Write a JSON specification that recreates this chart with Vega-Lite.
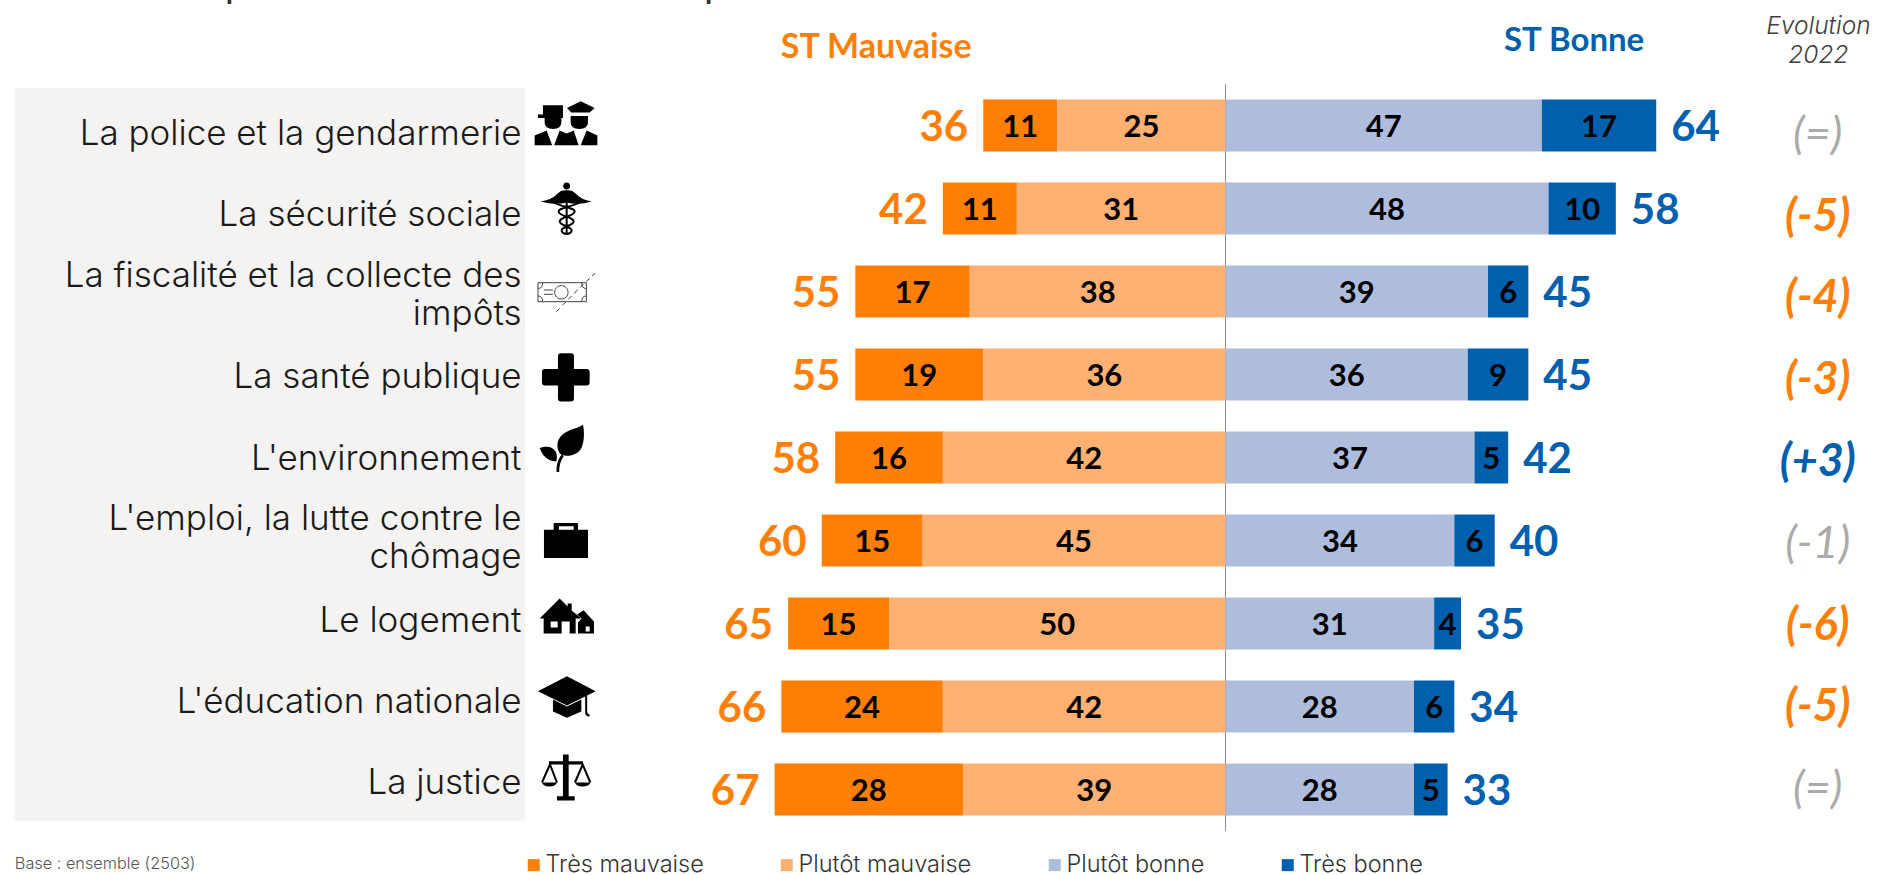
{"$schema":"https://vega.github.io/schema/vega-lite/v6.json","width":1881,"height":875,"padding":0,"autosize":{"type":"none"},"background":"white","config":{"view":{"stroke":null},"text":{"font":"Lato"}},
"data":{"values":[{"annotation":1}]},
"datasets":{
"barres":[
{"item":"La police et la gendarmerie","cat":"Très mauvaise","rang":2,"v":-11,"n":11},{"item":"La police et la gendarmerie","cat":"Plutôt mauvaise","rang":1,"v":-25,"n":25},{"item":"La police et la gendarmerie","cat":"Plutôt bonne","rang":1,"v":47,"n":47},{"item":"La police et la gendarmerie","cat":"Très bonne","rang":2,"v":17,"n":17},
{"item":"La sécurité sociale","cat":"Très mauvaise","rang":2,"v":-11,"n":11},{"item":"La sécurité sociale","cat":"Plutôt mauvaise","rang":1,"v":-31,"n":31},{"item":"La sécurité sociale","cat":"Plutôt bonne","rang":1,"v":48,"n":48},{"item":"La sécurité sociale","cat":"Très bonne","rang":2,"v":10,"n":10},
{"item":"La fiscalité et la collecte des impôts","cat":"Très mauvaise","rang":2,"v":-17,"n":17},{"item":"La fiscalité et la collecte des impôts","cat":"Plutôt mauvaise","rang":1,"v":-38,"n":38},{"item":"La fiscalité et la collecte des impôts","cat":"Plutôt bonne","rang":1,"v":39,"n":39},{"item":"La fiscalité et la collecte des impôts","cat":"Très bonne","rang":2,"v":6,"n":6},
{"item":"La santé publique","cat":"Très mauvaise","rang":2,"v":-19,"n":19},{"item":"La santé publique","cat":"Plutôt mauvaise","rang":1,"v":-36,"n":36},{"item":"La santé publique","cat":"Plutôt bonne","rang":1,"v":36,"n":36},{"item":"La santé publique","cat":"Très bonne","rang":2,"v":9,"n":9},
{"item":"L'environnement","cat":"Très mauvaise","rang":2,"v":-16,"n":16},{"item":"L'environnement","cat":"Plutôt mauvaise","rang":1,"v":-42,"n":42},{"item":"L'environnement","cat":"Plutôt bonne","rang":1,"v":37,"n":37},{"item":"L'environnement","cat":"Très bonne","rang":2,"v":5,"n":5},
{"item":"L'emploi, la lutte contre le chômage","cat":"Très mauvaise","rang":2,"v":-15,"n":15},{"item":"L'emploi, la lutte contre le chômage","cat":"Plutôt mauvaise","rang":1,"v":-45,"n":45},{"item":"L'emploi, la lutte contre le chômage","cat":"Plutôt bonne","rang":1,"v":34,"n":34},{"item":"L'emploi, la lutte contre le chômage","cat":"Très bonne","rang":2,"v":6,"n":6},
{"item":"Le logement","cat":"Très mauvaise","rang":2,"v":-15,"n":15},{"item":"Le logement","cat":"Plutôt mauvaise","rang":1,"v":-50,"n":50},{"item":"Le logement","cat":"Plutôt bonne","rang":1,"v":31,"n":31},{"item":"Le logement","cat":"Très bonne","rang":2,"v":4,"n":4},
{"item":"L'éducation nationale","cat":"Très mauvaise","rang":2,"v":-24,"n":24},{"item":"L'éducation nationale","cat":"Plutôt mauvaise","rang":1,"v":-42,"n":42},{"item":"L'éducation nationale","cat":"Plutôt bonne","rang":1,"v":28,"n":28},{"item":"L'éducation nationale","cat":"Très bonne","rang":2,"v":6,"n":6},
{"item":"La justice","cat":"Très mauvaise","rang":2,"v":-28,"n":28},{"item":"La justice","cat":"Plutôt mauvaise","rang":1,"v":-39,"n":39},{"item":"La justice","cat":"Plutôt bonne","rang":1,"v":28,"n":28},{"item":"La justice","cat":"Très bonne","rang":2,"v":5,"n":5}
],
"lignes":[
{"item":"La police et la gendarmerie","libelle":"La police et la gendarmerie","nb":1,"stm":36,"stm_x":-36,"stb":64,"evol":"(=)","sens":"neutre"},
{"item":"La sécurité sociale","libelle":"La sécurité sociale","nb":1,"stm":42,"stm_x":-42,"stb":58,"evol":"(-5)","sens":"baisse"},
{"item":"La fiscalité et la collecte des impôts","libelle":"La fiscalité et la collecte des|impôts","nb":2,"stm":55,"stm_x":-55,"stb":45,"evol":"(-4)","sens":"baisse"},
{"item":"La santé publique","libelle":"La santé publique","nb":1,"stm":55,"stm_x":-55,"stb":45,"evol":"(-3)","sens":"baisse"},
{"item":"L'environnement","libelle":"L'environnement","nb":1,"stm":58,"stm_x":-58,"stb":42,"evol":"(+3)","sens":"hausse"},
{"item":"L'emploi, la lutte contre le chômage","libelle":"L'emploi, la lutte contre le|chômage","nb":2,"stm":60,"stm_x":-60,"stb":40,"evol":"(-1)","sens":"neutre"},
{"item":"Le logement","libelle":"Le logement","nb":1,"stm":65,"stm_x":-65,"stb":35,"evol":"(-6)","sens":"baisse"},
{"item":"L'éducation nationale","libelle":"L'éducation nationale","nb":1,"stm":66,"stm_x":-66,"stb":34,"evol":"(-5)","sens":"baisse"},
{"item":"La justice","libelle":"La justice","nb":1,"stm":67,"stm_x":-67,"stb":33,"evol":"(=)","sens":"neutre"}
]},
"layer":[
{"mark":{"type":"rect","color":"#F4F3F1"},"encoding":{"x":{"datum":-179.9,"type":"quantitative","axis":null,"scale":{"domain":[-182.1,97.4],"nice":false,"zero":false}},"x2":{"datum":-104.1},"y":{"datum":88,"type":"quantitative","axis":null,"scale":{"domain":[0,875],"reverse":true,"nice":false}},"y2":{"datum":820.7}}},
{"mark":{"type":"rule","color":"#8C8C8C","strokeWidth":1},"encoding":{"x":{"datum":0,"type":"quantitative","axis":null},"y":{"datum":84,"type":"quantitative","axis":null,"scale":{"domain":[0,875],"reverse":true,"nice":false}},"y2":{"datum":831}}},
{"data":{"name":"lignes"},"transform":[{"filter":"datum.nb==1"}],"mark":{"type":"text","font":"Inter","fontSize":35,"fontWeight":300,"color":"#1a1a1a","align":"right","baseline":"middle"},"encoding":{"x":{"datum":-104.6,"type":"quantitative","axis":null},"y":{"field":"item","type":"nominal","sort":null,"axis":null,"scale":{"domain":["La police et la gendarmerie","La sécurité sociale","La fiscalité et la collecte des impôts","La santé publique","L'environnement","L'emploi, la lutte contre le chômage","Le logement","L'éducation nationale","La justice"],"range":[93.5,823.5]}},"text":{"field":"libelle"}}},
{"data":{"name":"lignes"},"transform":[{"filter":"datum.nb==2"}],"mark":{"type":"text","font":"Inter","fontSize":35,"fontWeight":300,"color":"#1a1a1a","align":"right","baseline":"middle","lineBreak":"|","lineHeight":38,"dy":-20.5},"encoding":{"x":{"datum":-104.6,"type":"quantitative","axis":null},"y":{"field":"item","type":"nominal","sort":null,"axis":null,"scale":{"domain":["La police et la gendarmerie","La sécurité sociale","La fiscalité et la collecte des impôts","La santé publique","L'environnement","L'emploi, la lutte contre le chômage","Le logement","L'éducation nationale","La justice"],"range":[93.5,823.5]}},"text":{"field":"libelle"}}},
{"data":{"name":"barres"},"mark":{"type":"bar","height":52},"encoding":{
"x":{"field":"v","type":"quantitative","stack":"zero","axis":null},
"y":{"field":"item","type":"nominal","sort":null,"axis":null,"scale":{"domain":["La police et la gendarmerie","La sécurité sociale","La fiscalité et la collecte des impôts","La santé publique","L'environnement","L'emploi, la lutte contre le chômage","Le logement","L'éducation nationale","La justice"],"range":[84,831]}},
"color":{"field":"cat","type":"nominal","scale":{"domain":["Très mauvaise","Plutôt mauvaise","Plutôt bonne","Très bonne"],"range":["#FF7F07","#FFB073","#AFBDDD","#0060AE"]},"legend":{"orient":"none","legendX":522,"legendY":853,"direction":"horizontal","columns":4,"title":null,"symbolType":"square","symbolSize":144,"symbolStrokeWidth":0,"labelFont":"Inter","labelFontSize":23.5,"labelFontWeight":300,"labelColor":"#333333","columnPadding":71,"labelOffset":0,"padding":0,"labelLimit":300}},
"order":{"field":"rang","type":"quantitative"}}},
{"data":{"name":"barres"},"mark":{"type":"text","fontSize":31,"fontWeight":"bold","color":"#000000","align":"center","baseline":"middle","dy":2},"encoding":{
"x":{"field":"v","type":"quantitative","stack":"zero","bandPosition":0.5,"axis":null},
"y":{"field":"item","type":"nominal","sort":null,"axis":null,"scale":{"domain":["La police et la gendarmerie","La sécurité sociale","La fiscalité et la collecte des impôts","La santé publique","L'environnement","L'emploi, la lutte contre le chômage","Le logement","L'éducation nationale","La justice"],"range":[84,831]}},
"detail":{"field":"cat"},"order":{"field":"rang","type":"quantitative"},"text":{"field":"n","type":"quantitative"}}},
{"data":{"name":"lignes"},"mark":{"type":"text","fontSize":42,"fontWeight":"bold","color":"#FF7F07","align":"right","baseline":"middle","dx":-15,"dy":2},"encoding":{"x":{"field":"stm_x","type":"quantitative","axis":null},"y":{"field":"item","type":"nominal","sort":null,"axis":null,"scale":{"domain":["La police et la gendarmerie","La sécurité sociale","La fiscalité et la collecte des impôts","La santé publique","L'environnement","L'emploi, la lutte contre le chômage","Le logement","L'éducation nationale","La justice"],"range":[84,831]}},"text":{"field":"stm","type":"quantitative"}}},
{"data":{"name":"lignes"},"mark":{"type":"text","fontSize":42,"fontWeight":"bold","color":"#0060AE","align":"left","baseline":"middle","dx":15,"dy":2},"encoding":{"x":{"field":"stb","type":"quantitative","axis":null},"y":{"field":"item","type":"nominal","sort":null,"axis":null,"scale":{"domain":["La police et la gendarmerie","La sécurité sociale","La fiscalité et la collecte des impôts","La santé publique","L'environnement","L'emploi, la lutte contre le chômage","Le logement","L'éducation nationale","La justice"],"range":[84,831]}},"text":{"field":"stb","type":"quantitative"}}},
{"data":{"name":"lignes"},"transform":[{"filter":"datum.sens!='neutre'"}],"mark":{"type":"text","fontSize":45,"fontWeight":"bold","fontStyle":"italic","align":"center","baseline":"middle","dy":3},"encoding":{"x":{"datum":88,"type":"quantitative","axis":null},"y":{"field":"item","type":"nominal","sort":null,"axis":null,"scale":{"domain":["La police et la gendarmerie","La sécurité sociale","La fiscalité et la collecte des impôts","La santé publique","L'environnement","L'emploi, la lutte contre le chômage","Le logement","L'éducation nationale","La justice"],"range":[91,827]}},"color":{"field":"sens","type":"nominal","legend":null,"scale":{"domain":["baisse","hausse"],"range":["#FF7F07","#0060AE"]}},"text":{"field":"evol"}}},
{"data":{"name":"lignes"},"transform":[{"filter":"datum.sens=='neutre'"}],"mark":{"type":"text","fontSize":45,"fontStyle":"italic","color":"#ABABAB","align":"center","baseline":"middle","dy":3},"encoding":{"x":{"datum":88,"type":"quantitative","axis":null},"y":{"field":"item","type":"nominal","sort":null,"axis":null,"scale":{"domain":["La police et la gendarmerie","La sécurité sociale","La fiscalité et la collecte des impôts","La santé publique","L'environnement","L'emploi, la lutte contre le chômage","Le logement","L'éducation nationale","La justice"],"range":[91,827]}},"text":{"field":"evol"}}},
{"data":{"name":"lignes"},"transform":[{"filter":"datum.item!='La fiscalité et la collecte des impôts'"}],"mark":{"type":"point","filled":true,"size":4,"color":"#000000","opacity":1,"strokeWidth":0},"encoding":{"x":{"datum":-97.9,"type":"quantitative","axis":null},"y":{"field":"item","type":"nominal","sort":null,"axis":null,"scale":{"domain":["La police et la gendarmerie","La sécurité sociale","La fiscalité et la collecte des impôts","La santé publique","L'environnement","L'emploi, la lutte contre le chômage","Le logement","L'éducation nationale","La justice"],"range":[84,831]}},
"shape":{"field":"item","type":"nominal","legend":null,"scale":{"domain":["La police et la gendarmerie","La sécurité sociale","La santé publique","L'environnement","L'emploi, la lutte contre le chômage","Le logement","L'éducation nationale","La justice"],"range":[
"M-23.7 -20.3H-3.7V-11H-23.7ZM-28.7 -11H-3.7V-7.6H-28.7ZM-22 -7.6H-5.3V-3Q-5.3 3 -13.5 3.5Q-22 3 -22 -3ZM0.3 -17.6L14 -24.3L28 -17.6L23 -13H4.7ZM4 -9.6H21.3V-3Q21.3 3 12.7 3.5Q4 3 4 -3ZM-32 19.7V10L-20 5L-14.5 19.7H-12.5L-7 5L0 8L7 5L12 19.7H14L20 5L30.7 10V19.7Z",
"M-26 -7Q-14 -9 -9 -15Q-5 -19 0 -18Q5 -19 9 -15Q14 -9 25 -7Q12 -3 0 -6Q-12 -3 -26 -7ZM-3.5 -22.5a3.5 3.5 0 1 0 7 0a3.5 3.5 0 1 0 -7 0Z",
"M-8.7 -18.3Q-8.7 -21.3 -5.7 -21.3H4.3Q7.3 -21.3 7.3 -18.3V-5.6H20Q23 -5.6 23 -2.6V8Q23 11 20 11H7.3V24Q7.3 27 4.3 27H-5.7Q-8.7 27 -8.7 24V11H-21.7Q-24.7 11 -24.7 8V-2.6Q-24.7 -5.6 -21.7 -5.6H-8.7Z",
"M16.3 -32.7C10 -28 -3 -28 -8 -18C-11 -11 -8 -5 -5.3 -2.7C2 0 12 -3 15 -10C17.5 -16 18 -25 16.3 -32.7ZM-27 -9.4C-20 -12 -14 -11 -11 -6C-9 -2 -10 2 -10.3 4C-15 4 -23 2 -27 -9.4ZM-10 14.5L-7.5 14.5C-7.5 8 -6 3 -3 -1L-5 -3C-9 2 -10.5 8 -10 14.5Z",
"M-22.7 -10.8H-13V-17.5H11.3V-10.8H21.3V17.5H-22.7ZM-7.7 -14.2V-10.8H7V-14.2Z",
"M-7 -25L1 -17V-20H5V-13L14.7 -5H9V10H3V-2H-5V10H-23V-5H-27ZM-16 -2V4H-9V-2ZM17 -13.3L27.3 -2V10H11.3V-1L15 -5L10.5 -9ZM19 3V8H23V3Z",
"M0.3 -30.3L29 -15.3L0.3 -1L-28.7 -15.3ZM-13.7 -7L0.3 0L14.7 -7V5L0.3 11.3L-13.7 5ZM18.5 -12H20.5V5Q21 8 23 8V10Q18 10 18.5 5Z",
"M-3.7 -35H2V-28.3H16.3V-25H2V6.7H8V11H-9.7V6.7H-3.7V-25H-17.7V-28.3H-3.7ZM-24.7 -7H-9.7Q-11 -3 -17.2 -3Q-23.5 -3 -24.7 -7ZM8.3 -7H23.7Q22.5 -3 16 -3Q9.5 -3 8.3 -7Z"]}}}},
{"data":{"name":"lignes"},"transform":[{"filter":"datum.item=='La sécurité sociale'||datum.item=='La justice'"}],"mark":{"type":"point","filled":false,"size":4,"color":"#000000","opacity":1,"strokeWidth":2},"encoding":{"x":{"datum":-97.9,"type":"quantitative","axis":null},"y":{"field":"item","type":"nominal","sort":null,"axis":null,"scale":{"domain":["La police et la gendarmerie","La sécurité sociale","La fiscalité et la collecte des impôts","La santé publique","L'environnement","L'emploi, la lutte contre le chômage","Le logement","L'éducation nationale","La justice"],"range":[84,831]}},
"shape":{"field":"item","type":"nominal","legend":null,"scale":{"domain":["La sécurité sociale","La justice"],"range":[
"M-15 -7C-5 -1 8 -1 8 3C8 8 -7 8 -7 13C-7 17 5 18 5 22C5 25 1 25 0 26M15 -7C5 -1 -8 -1 -8 3C-8 8 7 8 7 13C7 17 -5 18 -5 22C-5 25 -1 25 0 26M0 -18V26",
"M-24.7 -7L-16.7 -25L-9.7 -7M8.3 -7L16 -25L23.7 -7"]}}}},
{"data":{"name":"lignes"},"transform":[{"filter":"datum.item=='La fiscalité et la collecte des impôts'"}],"mark":{"type":"point","filled":false,"size":4,"color":"#444444","opacity":1,"strokeWidth":1},"encoding":{"x":{"datum":-97.9,"type":"quantitative","axis":null},"y":{"field":"item","type":"nominal","sort":null,"axis":null,"scale":{"domain":["La police et la gendarmerie","La sécurité sociale","La fiscalité et la collecte des impôts","La santé publique","L'environnement","L'emploi, la lutte contre le chômage","Le logement","L'éducation nationale","La justice"],"range":[84,831]}},
"shape":{"field":"item","type":"nominal","legend":null,"scale":{"domain":["La fiscalité et la collecte des impôts"],"range":[
"M-28.7 -8.8H19.7V10.2H-28.7ZM-12 0.8a6.7 6.7 0 1 0 13.4 0a6.7 6.7 0 1 0 -13.4 0ZM-22.7 -1.5H-13.7M-22.7 2.8H-13.7M-28.7 -3Q-24 -3 -24 -8.8M-28.7 4.5Q-24 4.5 -24 10.2M19.7 -3Q15 -3 15 -8.8M19.7 4.5Q15 4.5 15 10.2M-10.3 20.2L-7 17M-4.5 14L-1 10.5M1.5 8L5 4.5M7.5 2L11 -2M13.5 -4L17 -7.5M19.5 -10L23 -13M25.5 -15.5L28.7 -18.2"]}}}},
{"mark":{"type":"text","text":"ST Mauvaise","fontSize":34,"fontWeight":"bold","color":"#FF7F07","align":"center","baseline":"middle"},"encoding":{"x":{"datum":-51.9,"type":"quantitative","axis":null},"y":{"datum":48,"type":"quantitative","axis":null,"scale":{"domain":[0,875],"reverse":true,"nice":false}}}},
{"mark":{"type":"text","text":"ST Bonne","fontSize":33,"fontWeight":"bold","color":"#0060AE","align":"center","baseline":"middle"},"encoding":{"x":{"datum":51.8,"type":"quantitative","axis":null},"y":{"datum":41,"type":"quantitative","axis":null,"scale":{"domain":[0,875],"reverse":true,"nice":false}}}},
{"mark":{"type":"text","text":"Evolution","font":"Inter","fontSize":24.5,"fontWeight":300,"fontStyle":"italic","color":"#404040","align":"center","baseline":"middle"},"encoding":{"x":{"datum":88.1,"type":"quantitative","axis":null},"y":{"datum":27,"type":"quantitative","axis":null,"scale":{"domain":[0,875],"reverse":true,"nice":false}}}},
{"mark":{"type":"text","text":"2022","font":"Inter","fontSize":24.5,"fontWeight":300,"fontStyle":"italic","color":"#404040","align":"center","baseline":"middle"},"encoding":{"x":{"datum":88.1,"type":"quantitative","axis":null},"y":{"datum":56,"type":"quantitative","axis":null,"scale":{"domain":[0,875],"reverse":true,"nice":false}}}},
{"mark":{"type":"text","text":"Base : ensemble (2503)","font":"Inter","fontSize":16.3,"fontWeight":300,"color":"#555555","align":"left","baseline":"middle"},"encoding":{"x":{"datum":-179.9,"type":"quantitative","axis":null},"y":{"datum":864,"type":"quantitative","axis":null,"scale":{"domain":[0,875],"reverse":true,"nice":false}}}},
{"mark":{"type":"text","text":"p","fontSize":40,"color":"#333333","align":"left","baseline":"alphabetic"},"encoding":{"x":{"datum":-148.7,"type":"quantitative","axis":null},"y":{"datum":-3,"type":"quantitative","axis":null,"scale":{"domain":[0,875],"reverse":true,"nice":false}}}},
{"mark":{"type":"text","text":"p","fontSize":40,"color":"#333333","align":"left","baseline":"alphabetic"},"encoding":{"x":{"datum":-77.5,"type":"quantitative","axis":null},"y":{"datum":-3,"type":"quantitative","axis":null,"scale":{"domain":[0,875],"reverse":true,"nice":false}}}}
],
"resolve":{"scale":{"y":"independent","shape":"independent","color":"independent"}}}
